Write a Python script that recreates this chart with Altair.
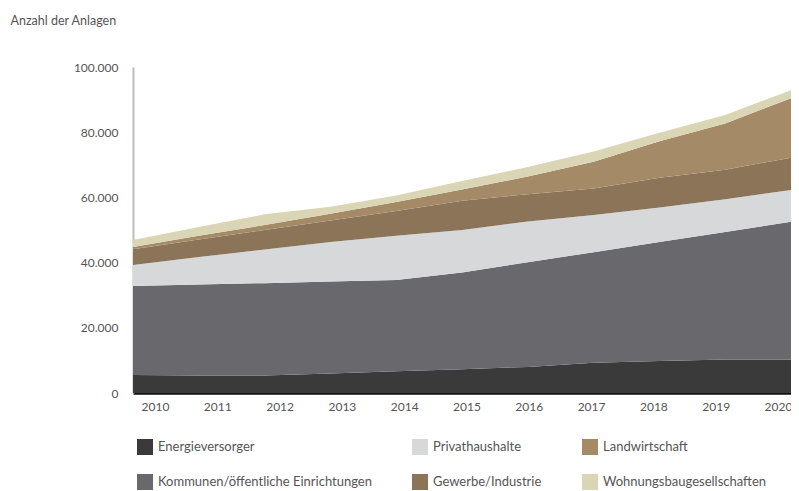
import altair as alt
import pandas as pd

years = [2010, 2011, 2012, 2013, 2014, 2015, 2016, 2017, 2018, 2019, 2020]

energieversorger = [5500, 5400, 5400, 6000, 6700, 7300, 8000, 9300, 9800, 10300, 10300]
kommunen = [27300, 27900, 28300, 28200, 28000, 29700, 32100, 33900, 36500, 39100, 42200]
privathaushalte = [6500, 8400, 10300, 12100, 13500, 13000, 12500, 11400, 10600, 10000, 9800]
gewerbe = [4800, 5400, 6000, 6600, 7600, 9000, 8400, 8100, 9100, 9100, 9900]
landwirtschaft = [700, 1100, 1500, 2100, 2800, 3400, 5400, 8200, 11200, 14200, 18200]
wohnungsbau = [2100, 2700, 3300, 2100, 2000, 2600, 2900, 3200, 2600, 2600, 2500]

stack_groups = [
    "Energieversorger",
    "Kommunen/öffentliche Einrichtungen",
    "Privathaushalte",
    "Gewerbe/Industrie",
    "Landwirtschaft",
    "Wohnungsbaugesellschaften",
]
series = [energieversorger, kommunen, privathaushalte, gewerbe, landwirtschaft, wohnungsbau]

legend_order = [
    "Energieversorger",
    "Privathaushalte",
    "Landwirtschaft",
    "Kommunen/öffentliche Einrichtungen",
    "Gewerbe/Industrie",
    "Wohnungsbaugesellschaften",
]
legend_colors = ["#3a3a3a", "#d7d8da", "#a58a67", "#69696d", "#8b7457", "#d9d5b5"]

y_ticks = [0, 20000, 40000, 60000, 80000, 100000]

rows = []
for idx, (g, vals) in enumerate(zip(stack_groups, series)):
    for yr, v in zip(years, vals):
        rows.append({"Jahr": yr, "Gruppe": g, "Anzahl": v, "Stapel": idx})
df = pd.DataFrame(rows)
years_df = pd.DataFrame({"Jahr": years})

FONT = "Lato"
TXT = "#555555"
PLOT_W = 658
PLOT_H = 326

area = alt.Chart(df).mark_area().encode(
    x=alt.X("Jahr:Q", scale=alt.Scale(domain=[2010, 2020], nice=False, zero=False), axis=None),
    y=alt.Y(
        "Anzahl:Q",
        stack="zero",
        scale=alt.Scale(domain=[0, 100000], nice=False),
        axis=alt.Axis(
            values=y_ticks,
            labelExpr="replace(format(datum.value, ','), ',', '.')",
            ticks=False,
            grid=False,
            domainColor="#bdbdbd",
            domainWidth=2,
            labelPadding=15,
            labelFont=FONT,
            labelFontSize=12,
            labelColor=TXT,
            title="Anzahl der Anlagen",
            titleAngle=0,
            titleAlign="left",
            titleBaseline="middle",
            titleX=-123,
            titleY=-47,
            titleFont=FONT,
            titleFontSize=12.5,
            titleFontWeight="normal",
            titleColor=TXT,
        ),
    ),
    color=alt.Color(
        "Gruppe:N",
        scale=alt.Scale(domain=legend_order, range=legend_colors),
        legend=alt.Legend(
            orient="none",
            legendX=4,
            legendY=372,
            columns=3,
            direction="horizontal",
            title=None,
            symbolType="square",
            symbolSize=256,
            symbolStrokeWidth=0,
            symbolOpacity=1,
            labelFont=FONT,
            labelFontSize=13,
            labelColor=TXT,
            labelOffset=5,
            columnPadding=40,
            rowPadding=19,
            labelLimit=400,
        ),
    ),
    order=alt.Order("Stapel:Q", sort="ascending"),
)

xaxis = alt.Chart(years_df).mark_point(opacity=0).encode(
    x=alt.X(
        "Jahr:Q",
        scale=alt.Scale(domain=[2009.647, 2020.209], nice=False, zero=False),
        axis=alt.Axis(
            values=years,
            format="d",
            ticks=False,
            grid=False,
            domainColor="#111111",
            domainWidth=2.5,
            labelPadding=8,
            labelFont=FONT,
            labelFontSize=12,
            labelColor=TXT,
            labelFlush=False,
            labelOverlap=False,
            title=None,
        ),
    ),
    y=alt.value(PLOT_H),
)

chart = (
    alt.layer(area, xaxis)
    .resolve_scale(x="independent")
    .properties(
        width=PLOT_W,
        height=PLOT_H,
        autosize=alt.AutoSizeParams(type="none"),
        padding={"left": 125, "top": 59, "right": 0, "bottom": 98},
    )
    .configure_view(stroke=None)
)

chart.save("out.html", embed_options={"renderer": "svg", "actions": False})
